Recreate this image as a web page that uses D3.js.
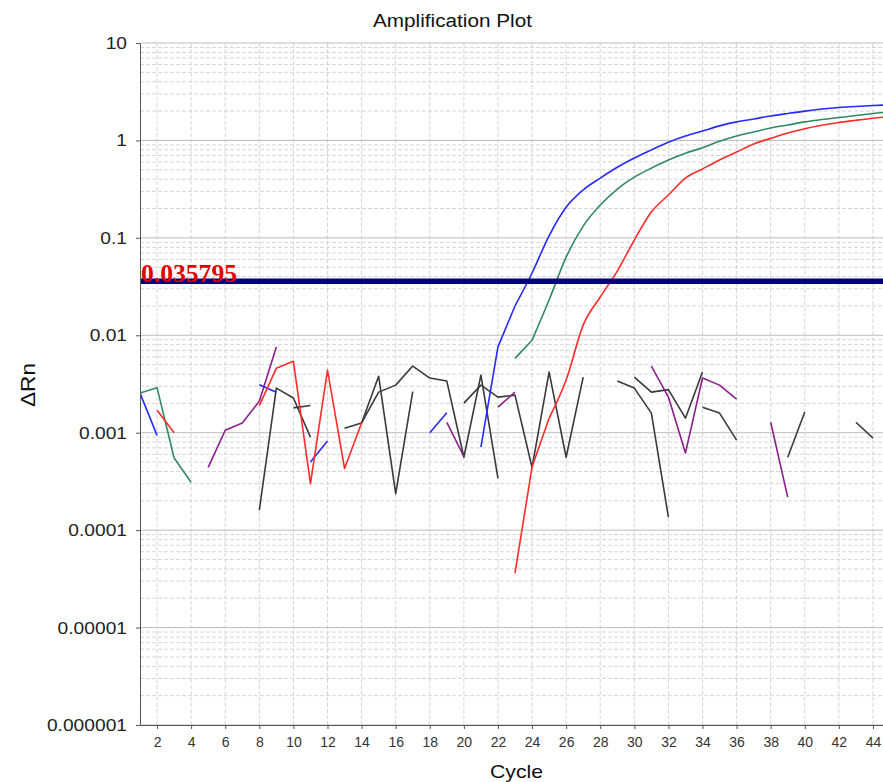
<!DOCTYPE html>
<html lang="en">
<head>
  <meta charset="UTF-8">
  <title>Amplification Plot</title>
  <script src="https://d3js.org/d3.v7.min.js"></script>
  <style>
    body { margin: 0; background: #fff; }
    svg { display: block; font-family: 'Liberation Sans', Arial, sans-serif; }
    .grid-minor { stroke: #d6d6d6; stroke-width: 1; stroke-dasharray: 4,2; }
    .grid-major { stroke: #bdbdbd; stroke-width: 1; }
    .axis path, .axis line { stroke: #555; }
    .trace { fill: none; stroke-width: 1.6; stroke-linejoin: round; }
  </style>
</head>
<body>
<div id="chart"></div>
<script>
  const _ = null;

  // cycle numbers on the x axis
  const cycles = d3.range(1, 46);

  // delta Rn per cycle (null = not drawn)
  const blueRn = [0.00255, 0.00094, _, _, _, _, _, 0.0031, 0.0026, _,
    0.0005, 0.00082, _, _, _, _, _, 0.001, 0.0016, _,
    0.00071, 0.0076, 0.02, 0.0436, 0.105, 0.206, 0.31, 0.41, 0.53, 0.66,
    0.80, 0.96, 1.11, 1.25, 1.41, 1.55, 1.66, 1.78, 1.89, 2.0,
    2.10, 2.18, 2.23, 2.28, 2.32];

  const greenRn = [0.00255, 0.0029, 0.00055, 0.00031, _, _, _, _, _, _,
    _, _, _, _, _, _, _, _, _, _,
    _, _, 0.0058, 0.0089, 0.023, 0.0635, 0.132, 0.217, 0.317, 0.42,
    0.52, 0.63, 0.74, 0.84, 0.98, 1.11, 1.22, 1.34, 1.44, 1.55,
    1.64, 1.72, 1.80, 1.89, 1.96];

  const redRn = [_, 0.0017, 0.001, _, _, _, _, 0.0019, 0.0046, 0.0054,
    0.0003, 0.0044, 0.00043, 0.00126, _, _, _, _, _, _,
    _, _, 0.0000362, 0.000444, 0.00141, 0.00347, 0.0127, 0.0247, 0.0456, 0.095,
    0.184, 0.275, 0.41, 0.51, 0.63, 0.76, 0.92, 1.05, 1.19, 1.32,
    1.43, 1.53, 1.61, 1.69, 1.76];

  const purpleRn = [_, _, _, _, 0.00044, 0.00106, 0.00126, 0.0021, 0.0076, _,
    _, _, _, _, _, _, _, _, 0.00128, 0.00057,
    _, 0.00183, 0.00261, _, _, _, _, _, _, _,
    0.00483, 0.00232, 0.00062, 0.00364, 0.00308, 0.00221, _, 0.00128, 0.000218, _,
    _, _, _, _, _];

  const grayRnA = [_, _, _, _, _, _, _, 0.00016, 0.00287, 0.00227,
    0.0009, _, 0.00111, 0.00126, 0.00261, 0.00308, 0.00483, 0.00364, 0.00339, 0.00056,
    0.0039, 0.00034, _, _, _, _, _, _, 0.00339, 0.00287,
    0.00159, 0.000136, _, _, _, _, _, _, 0.00056, 0.00163,
    _, _, 0.00128, 0.00088, _];

  const grayRnB = [_, _, _, _, _, _, _, _, _, 0.0018,
    0.0019, _, _, 0.00126, 0.0038, 0.000237, 0.00264, _, _, 0.00201,
    0.00308, 0.00232, 0.00243, 0.00044, 0.00419, 0.00056, 0.00372, _, _, 0.00372,
    0.00261, 0.00277, 0.00141, 0.00419, _, _, _, _, _, _,
    _, _, _, _, _];

  const grayRnC = [_, _, _, _, _, _, _, _, _, _,
    _, _, _, _, _, _, _, _, _, _,
    _, _, _, _, _, _, _, _, _, _,
    _, _, _, 0.00183, 0.00159, 0.00084, _, _, _, _,
    _, _, _, _, _];

  const threshold = 0.035795;

  const xTicks = [2, 4, 6, 8, 10, 12, 14, 16, 18, 20, 22, 24, 26, 28, 30, 32, 34, 36, 38, 40, 42, 44];
  const yTicks = [10, 1, 0.1, 0.01, 0.001, 0.0001, 0.00001, 0.000001];
  const yTickLabels = ["10", "1", "0.1", "0.01", "0.001", "0.0001", "0.00001", "0.000001"];

  const width = 883, height = 782;
  const margin = { top: 43, left: 140 };
  const plotBottom = 725;
  const plotRight = 890;

  const svg = d3.select("#chart").append("svg")
    .attr("width", width)
    .attr("height", height);

  const x = d3.scaleLinear().domain([1, 45]).range([margin.left, plotRight]);
  const y = d3.scaleLog().domain([0.000001, 10]).range([plotBottom, margin.top]);

  svg.append("clipPath").attr("id", "plot-clip")
    .append("rect")
    .attr("x", margin.left).attr("y", margin.top)
    .attr("width", plotRight - margin.left).attr("height", plotBottom - margin.top);

  // grid
  const grid = svg.append("g");
  const minorY = [];
  yTicks.slice(1).forEach(dec => {
    for (let k = 2; k <= 9; k++) minorY.push(dec * k);
  });
  grid.selectAll(".hminor").data(minorY).join("line")
    .attr("class", "grid-minor")
    .attr("x1", margin.left).attr("x2", plotRight)
    .attr("y1", d => y(d)).attr("y2", d => y(d));
  grid.selectAll(".vminor").data(xTicks).join("line")
    .attr("class", "grid-minor")
    .attr("x1", d => x(d)).attr("x2", d => x(d))
    .attr("y1", margin.top).attr("y2", plotBottom);
  grid.selectAll(".hmajor").data(yTicks).join("line")
    .attr("class", "grid-major")
    .attr("x1", margin.left).attr("x2", plotRight)
    .attr("y1", d => y(d)).attr("y2", d => y(d));

  // traces: noise / early part drawn straight, plateau part smoothed
  const noiseLine = d3.line()
    .defined(d => d.v != null)
    .x(d => x(d.c))
    .y(d => y(d.v));
  const riseLine = d3.line()
    .defined(d => d.v != null)
    .curve(d3.curveMonotoneX)
    .x(d => x(d.c))
    .y(d => y(d.v));

  const traces = [
    { values: grayRnA, color: "#3a3a3a", smoothFrom: 99 },
    { values: grayRnB, color: "#3a3a3a", smoothFrom: 99 },
    { values: grayRnC, color: "#3a3a3a", smoothFrom: 99 },
    { values: purpleRn, color: "#8a1f8a", smoothFrom: 99 },
    { values: greenRn, color: "#2e8a62", smoothFrom: 24 },
    { values: blueRn, color: "#2828ff", smoothFrom: 23 },
    { values: redRn, color: "#ff2b2b", smoothFrom: 25 }
  ];

  const plot = svg.append("g").attr("clip-path", "url(#plot-clip)");
  const tr = plot.selectAll(".tr").data(traces).join("g");
  tr.append("path")
    .attr("class", "trace")
    .attr("stroke", d => d.color)
    .attr("d", d => noiseLine(cycles.map((c, i) => ({ c: c, v: c <= d.smoothFrom ? d.values[i] : null }))));
  tr.filter(d => d.smoothFrom < 99).append("path")
    .attr("class", "trace")
    .attr("stroke", d => d.color)
    .attr("d", d => riseLine(cycles.map((c, i) => ({ c: c, v: d.values[i] })).filter(p => p.c >= d.smoothFrom)));

  // threshold label + line
  svg.append("text")
    .attr("x", 141).attr("y", 282)
    .attr("textLength", 96).attr("lengthAdjust", "spacingAndGlyphs")
    .style("font-family", "'Liberation Serif', 'Times New Roman', serif")
    .style("font-weight", "bold")
    .style("font-size", "25px")
    .style("fill", "#e00000")
    .text(threshold.toString());

  plot.append("line")
    .attr("x1", margin.left).attr("x2", plotRight)
    .attr("y1", y(threshold)).attr("y2", y(threshold))
    .attr("stroke", "#00007a").attr("stroke-width", 5.5);

  // axes
  const yAxis = svg.append("g").attr("class", "axis")
    .attr("transform", `translate(${margin.left},0)`)
    .call(d3.axisLeft(y).tickValues(yTicks).tickFormat((d, i) => yTickLabels[i]).tickSize(4).tickSizeOuter(0));
  yAxis.selectAll("text")
    .attr("x", -11.5)
    .attr("transform", "scale(1.13,1)")
    .style("font-size", "17px")
    .style("fill", "#222");

  const xAxis = svg.append("g").attr("class", "axis")
    .attr("transform", `translate(0,${plotBottom})`)
    .call(d3.axisBottom(x).tickValues(xTicks).tickSize(4).tickSizeOuter(0).tickPadding(8));
  xAxis.selectAll("text")
    .style("font-size", "14px")
    .style("fill", "#333");

  // titles
  svg.append("text")
    .attr("x", 373).attr("y", 27)
    .attr("textLength", 159).attr("lengthAdjust", "spacingAndGlyphs")
    .style("font-size", "18px").style("fill", "#111")
    .text("Amplification Plot");

  svg.append("text")
    .attr("transform", "translate(35,385) rotate(-90)")
    .attr("text-anchor", "middle")
    .attr("textLength", 44).attr("lengthAdjust", "spacingAndGlyphs")
    .style("font-size", "20px").style("fill", "#111")
    .text("ΔRn");

  svg.append("text")
    .attr("x", 490).attr("y", 778)
    .attr("textLength", 53).attr("lengthAdjust", "spacingAndGlyphs")
    .style("font-size", "18.5px").style("fill", "#111")
    .text("Cycle");
</script>
</body>
</html>
